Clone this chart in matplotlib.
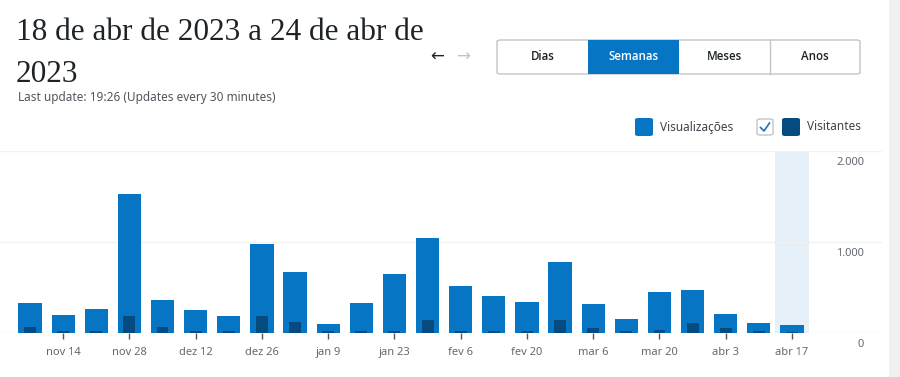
import matplotlib
matplotlib.use("Agg")
import matplotlib.pyplot as plt
from matplotlib.patches import FancyBboxPatch, Rectangle
from matplotlib.lines import Line2D

# ---- data ----
weeks = ["nov 7", "nov 14", "nov 21", "nov 28", "dez 5", "dez 12", "dez 19", "dez 26",
         "jan 2", "jan 9", "jan 16", "jan 23", "jan 30", "fev 6", "fev 13", "fev 20",
         "fev 27", "mar 6", "mar 13", "mar 20", "mar 27", "abr 3", "abr 10", "abr 17"]
views = [326, 196, 264, 1525, 359, 253, 185, 978, 670, 101, 329, 652,
         1039, 514, 409, 340, 783, 322, 152, 449, 478, 206, 109, 83]
visitors = [61, 22, 25, 188, 61, 22, 22, 185, 120, 18, 22, 22,
            145, 22, 18, 18, 148, 50, 25, 28, 112, 60, 18, 12]
yticks = [0, 1000, 2000]
ytick_labels = ["0", "1.000", "2.000"]
periods = ["Dias", "Semanas", "Meses", "Anos"]
title_lines = ["18 de abr de 2023 a 24 de abr de", "2023"]
subtitle = "Last update: 19:26 (Updates every 30 minutes)"

BLUE = "#0675C4"
DARK = "#054B80"
HL = "#E5F0F9"
W, H = 900, 377

fig = plt.figure(figsize=(9, 3.77), dpi=100)
fig.patch.set_facecolor("white")

def fx(x):
    return x / W

def fy(y):
    return 1 - y / H

# right grey strip
fig.patches.append(Rectangle((fx(889), 0), 1 - fx(889), 1, transform=fig.transFigure,
                             facecolor="#F0F0F1", edgecolor="none", zorder=0))

# ---- axes ----
ax_left, ax_right = 0, 882
base_y, top_y = 333, 151
ax = fig.add_axes([fx(ax_left), 1 - base_y / H, fx(ax_right - ax_left), (base_y - top_y) / H])
ax.set_facecolor("none")
n = len(weeks)
xs = list(range(n))
step = (792 - 30) / (n - 1)
ax.set_xlim(-30 / step, (882 - 30) / step)
ax.set_ylim(0, 2000)

ax.axvspan(n - 1 - 0.51, n - 1 + 0.51, color=HL, zorder=0, lw=0)
for yv in yticks[1:]:
    ax.axhline(yv, color="#F2F2F2", lw=1, zorder=0.5)
ax.axhline(0, color="#EDEDED", lw=1, zorder=0.5)

ax.bar(xs, views, width=0.7, color=BLUE, zorder=2)
ax.bar(xs, visitors, width=0.36, color=DARK, zorder=3)

for s in ax.spines.values():
    s.set_visible(False)
ax.set_yticks([])
tick_idx = list(range(1, n, 2))
ax.set_xticks(tick_idx)
ax.set_xticklabels([weeks[i] for i in tick_idx], fontsize=8, color="#646970",
                   family=["Noto Sans", "DejaVu Sans"])
ax.tick_params(axis="x", length=4, width=1, color="#50575E", pad=6)

for yv, lab in zip(yticks, ytick_labels):
    ax.annotate(lab, xy=(864 / 882, yv), xycoords=("axes fraction", "data"),
                xytext=(0, -4), textcoords="offset points", ha="right", va="top",
                fontsize=8, color="#646970", family=["Noto Sans", "DejaVu Sans"])

# ---- header ----
for line, base in zip(title_lines, (40, 82)):
    fig.text(fx(16), fy(base), line, fontsize=22.5, color="#1D2327", ha="left", va="baseline",
             family=["Liberation Serif", "DejaVu Serif"])
fig.text(fx(18), fy(97), subtitle, fontsize=8.5, color="#50575E", ha="left", va="center",
         family=["Noto Sans", "DejaVu Sans"])

fig.text(fx(437), fy(57), "←", fontsize=12, color="#1D2327", ha="center", va="center",
         family=["DejaVu Sans"])
fig.text(fx(463), fy(57), "→", fontsize=12, color="#C3C4C7", ha="center", va="center",
         family=["DejaVu Sans"])

# buttons
bx0, bx1, by0, by1 = 497, 860, 40, 74
edges = [497, 588, 679, 770, 860]
outer = FancyBboxPatch((fx(bx0), fy(by1)), fx(bx1 - bx0), (by1 - by0) / H,
                       boxstyle="round,pad=0,rounding_size=0.004", transform=fig.transFigure,
                       facecolor="white", edgecolor="#C3C4C7", lw=1, zorder=1)
fig.patches.append(outer)
fig.patches.append(Rectangle((fx(edges[1]), fy(by1)), fx(edges[2] - edges[1]), (by1 - by0) / H,
                             transform=fig.transFigure, facecolor=BLUE, edgecolor="none", zorder=2))
for e in (edges[3],):
    fig.lines.append(Line2D([fx(e), fx(e)], [fy(by1), fy(by0)], transform=fig.transFigure,
                            color="#C3C4C7", lw=1, zorder=3))
for i, p in enumerate(periods):
    cx = (edges[i] + edges[i + 1]) / 2
    fig.text(fx(cx), fy(57), p, fontsize=8.3, ha="center", va="center",
             color="white" if i == 1 else "#1D2327", weight="semibold",
             family=["Open Sans", "DejaVu Sans"], zorder=4)

# legend
def sq(x0, y0, x1, y1, fc, ec="none", lw=0):
    fig.patches.append(FancyBboxPatch((fx(x0), fy(y1)), fx(x1 - x0), (y1 - y0) / H,
                                      boxstyle="round,pad=0,rounding_size=0.004",
                                      transform=fig.transFigure, facecolor=fc,
                                      edgecolor=ec, lw=lw, zorder=2))

sq(635, 118, 653, 136, BLUE)
fig.text(fx(660), fy(127), "Visualizações", fontsize=8.5, color="#3C434A", ha="left",
         va="center", family=["Noto Sans", "DejaVu Sans"])
sq(757, 119, 773, 135, "white", "#C3C4C7", 1)
fig.lines.append(Line2D([fx(760.5), fx(764), fx(769.5)], [fy(127.5), fy(131), fy(123)],
                        transform=fig.transFigure, color="#2271B1", lw=1.2, zorder=3))
sq(782, 118, 800, 136, DARK)
fig.text(fx(807), fy(127), "Visitantes", fontsize=8.5, color="#3C434A", ha="left",
         va="center", family=["Noto Sans", "DejaVu Sans"])

fig.savefig("out.png", dpi=100, facecolor="white")
